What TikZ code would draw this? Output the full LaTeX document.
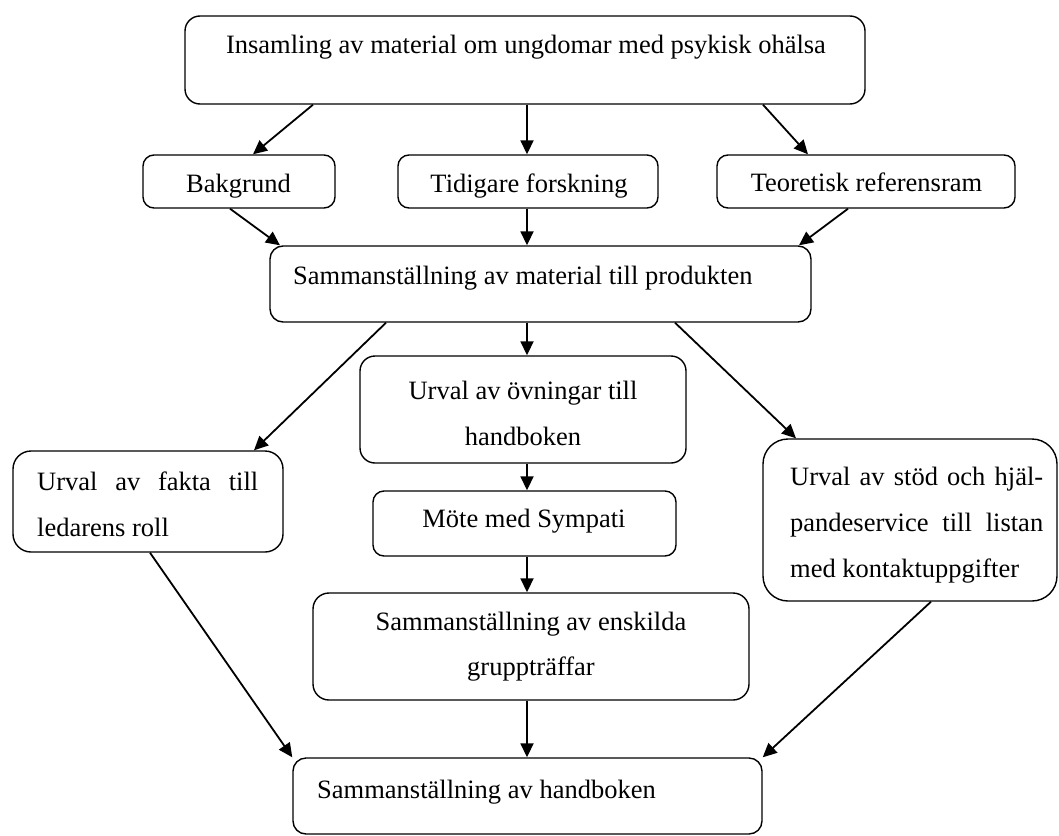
\documentclass[tikz,border=0pt]{standalone}
\usepackage{fontspec}
\setmainfont{Liberation Serif}
\usetikzlibrary{arrows.meta}
\begin{document}
\begin{tikzpicture}[x=1pt,y=-1pt,
  box/.style={draw, line width=1.4pt, inner sep=0pt, rounded corners=11pt},
  txt/.style={font=\fontsize{26.5}{46}\selectfont, inner sep=0pt, anchor=base},
  txtl/.style={txt, anchor=base west},
  arr/.style={line width=1.8pt, -{Triangle[length=14pt,width=13pt]}}]
\useasboundingbox (0,0) rectangle (1059,835);
% boxes
\node[box, rounded corners=15pt, minimum width=680pt, minimum height=88pt] (b1) at (525,60) {};
\node[box, minimum width=192pt, minimum height=53pt] (bak) at (239,181.5) {};
\node[box, minimum width=260pt, minimum height=53pt] (tid) at (528,181.5) {};
\node[box, minimum width=298pt, minimum height=53pt] (teo) at (866,181.5) {};
\node[box, rounded corners=13pt, minimum width=541pt, minimum height=76pt] (b3) at (540.5,284) {};
\node[box, rounded corners=15pt, minimum width=326pt, minimum height=107pt] (ovn) at (523,409.5) {};
\node[box, rounded corners=18pt, minimum width=270pt, minimum height=101pt] (fak) at (148,501.5) {};
\node[box, rounded corners=25pt, minimum width=294pt, minimum height=162pt] (sto) at (910,520) {};
\node[box, minimum width=303pt, minimum height=65pt] (mote) at (524.5,523.5) {};
\node[box, rounded corners=16pt, minimum width=436pt, minimum height=107pt] (ensk) at (531,646.5) {};
\node[box, rounded corners=13pt, minimum width=469pt, minimum height=76pt] (hand) at (527.5,796) {};
% texts
\node[txt] (t1) at (526,53) {Insamling av material om ungdomar med psykisk ohälsa};
\node[txt] (tbak) at (238.5,192) {Bakgrund};
\node[txt] (ttid) at (529,192) {Tidigare forskning};
\node[txt] (tteo) at (866.5,191) {Teoretisk referensram};
\node[txtl] (tb3) at (293,284) {Sammanställning av material till produkten};
\node[txt] (tovn1) at (523,399) {Urval av övningar till};
\node[txt] (tovn2) at (523,445) {handboken};
\node[txtl] (tfak1) at (37,490) {\makebox[221pt][s]{Urval av fakta till}};
\node[txtl] (tfak2) at (37,536) {ledarens roll};
\node[txtl] (tsto1) at (790,485) {\makebox[253pt][s]{Urval av stöd och hjäl-}};
\node[txtl] (tsto2) at (790,531) {\makebox[253pt][s]{pandeservice till listan}};
\node[txtl] (tsto3) at (790,577) {med kontaktuppgifter};
\node[txt] (tmote) at (524,527) {Möte med Sympati};
\node[txt] (tensk1) at (531,630) {Sammanställning av enskilda};
\node[txt] (tensk2) at (531,675) {gruppträffar};
\node[txtl] (thand) at (317,798) {Sammanställning av handboken};
% connectors
\draw[arr] ([xshift=-212pt]b1.south) -- ([xshift=14pt]bak.north);
\draw[arr] ([xshift=2pt]b1.south) -- ([xshift=-1pt]tid.north);
\draw[arr] ([xshift=238pt]b1.south) -- ([xshift=-58pt]teo.north);
\draw[arr] ([xshift=-9pt]bak.south) -- ([xshift=-260.5pt]b3.north);
\draw[arr] ([xshift=-1pt]tid.south) -- ([xshift=-13.5pt]b3.north);
\draw[arr] ([xshift=-18pt]teo.south) -- ([xshift=258.5pt]b3.north);
\draw[arr] ([xshift=-154.5pt]b3.south) -- ([xshift=106pt]fak.north);
\draw[arr] ([xshift=-13.5pt]b3.south) -- ([xshift=4pt]ovn.north);
\draw[arr] ([xshift=134.5pt]b3.south) -- ([xshift=-114pt]sto.north);
\draw[arr] ([xshift=4pt]ovn.south) -- ([xshift=2.5pt]mote.north);
\draw[arr] ([xshift=2.5pt]mote.south) -- ([xshift=-4pt]ensk.north);
\draw[arr] ([xshift=-4pt]ensk.south) -- ([xshift=-0.5pt]hand.north);
\draw[arr] ([xshift=2pt]fak.south) -- (hand.north west);
\draw[arr] ([xshift=21pt]sto.south) -- (hand.north east);
\end{tikzpicture}
\end{document}
